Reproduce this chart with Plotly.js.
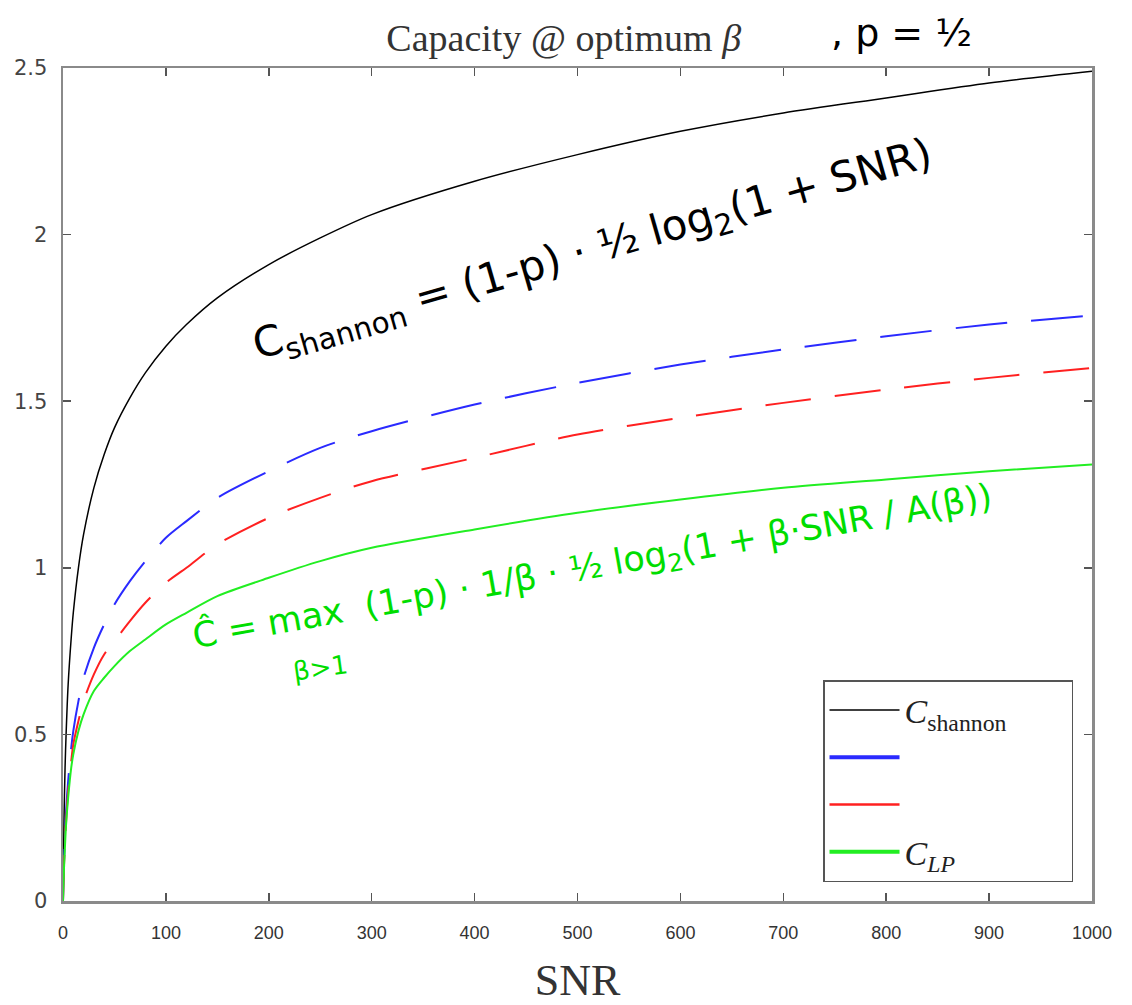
<!DOCTYPE html>
<html>
<head>
<meta charset="utf-8">
<script src="https://cdn.plot.ly/plotly-3.0.1.min.js"></script>
<style>html,body{margin:0;padding:0;background:#fff;}#chart{width:1132px;height:1005px;}</style>
</head>
<body>
<div id="chart"></div>
<script>
// SNR sample points
const snr = [0, 1, 2, 3, 5, 8, 10, 15, 20, 30, 40, 50, 65, 80, 100, 120, 150, 200, 250, 300, 400, 500, 600, 700, 800, 900, 1000];
// Black solid: C_shannon
const cShannon = [0, 0.25, 0.40, 0.50, 0.65, 0.79, 0.865, 1.00, 1.10, 1.24, 1.34, 1.42, 1.51, 1.585, 1.665, 1.73, 1.81, 1.91, 1.99, 2.06, 2.16, 2.24, 2.31, 2.365, 2.41, 2.455, 2.49];
// Blue dashed
const cBlue = [0, 0.12, 0.20, 0.27, 0.36, 0.46, 0.51, 0.60, 0.67, 0.76, 0.83, 0.89, 0.96, 1.02, 1.09, 1.14, 1.21, 1.29, 1.36, 1.41, 1.49, 1.555, 1.61, 1.655, 1.695, 1.73, 1.757];
// Red dashed
const cRed = [0, 0.11, 0.18, 0.24, 0.33, 0.42, 0.47, 0.54, 0.60, 0.68, 0.74, 0.78, 0.84, 0.895, 0.955, 1.00, 1.07, 1.15, 1.21, 1.26, 1.33, 1.40, 1.45, 1.495, 1.535, 1.57, 1.60];
// Green solid: C_LP
const cLP = [0, 0.10, 0.17, 0.23, 0.31, 0.40, 0.44, 0.51, 0.56, 0.63, 0.67, 0.705, 0.75, 0.785, 0.83, 0.865, 0.915, 0.97, 1.02, 1.06, 1.115, 1.165, 1.205, 1.24, 1.265, 1.29, 1.31];

const xTicks = [0, 100, 200, 300, 400, 500, 600, 700, 800, 900, 1000];
const yTicks = [0, 0.5, 1, 1.5, 2, 2.5];
const yTickText = ['0', '0.5', '1', '1.5', '2', '2.5'];

const NB = '\u00a0';
const names = {
  shannon: '<i>C</i><sub>shannon</sub>' + NB.repeat(7),
  blue: NB,
  red: NB,
  lp: '<i>C</i><sub><i>LP</i></sub>'
};

const colors = {black: '#000000', blue: '#2a2aff', red: '#ff2020', green: '#22ee22'};

const traces = [
  {x: snr, y: cShannon, mode: 'lines', line: {color: colors.black, width: 1.5, shape: 'spline', smoothing: 0.8}, name: names.shannon, showlegend: false},
  {x: snr, y: cBlue, mode: 'lines', line: {color: colors.blue, width: 2, dash: '52px,24px', shape: 'spline', smoothing: 0.8}, name: names.blue, showlegend: false},
  {x: snr, y: cRed, mode: 'lines', line: {color: colors.red, width: 2, dash: '46px,24px', shape: 'spline', smoothing: 0.8}, name: names.red, showlegend: false},
  {x: snr, y: cLP, mode: 'lines', line: {color: colors.green, width: 2, shape: 'spline', smoothing: 0.8}, name: names.lp, showlegend: false},
  // legend samples
  {x: [null], y: [null], mode: 'lines', line: {color: colors.black, width: 1.5}, name: names.shannon},
  {x: [null], y: [null], mode: 'lines', line: {color: colors.blue, width: 4}, name: names.blue},
  {x: [null], y: [null], mode: 'lines', line: {color: colors.red, width: 2.5}, name: names.red},
  {x: [null], y: [null], mode: 'lines', line: {color: colors.green, width: 4}, name: names.lp}
];

const axisCommon = {
  showgrid: false, zeroline: false, showline: true, mirror: 'ticks',
  linecolor: '#8a8a8a', linewidth: 2.5,
  ticks: 'inside', ticklen: 8, tickwidth: 1.5, tickcolor: '#555',
  tickfont: {family: 'Liberation Sans, Arial, sans-serif', size: 17, color: '#333'}
};

const layout = {
  width: 1132, height: 1005,
  paper_bgcolor: '#fff', plot_bgcolor: '#fff',
  margin: {l: 63, r: 40, t: 68, b: 104},
  title: {
    text: 'Capacity @ optimum <i>β</i>',
    font: {family: 'Liberation Serif, Times New Roman, serif', size: 38, color: '#333'},
    x: 0.498, xanchor: 'center', y: 0.962, yanchor: 'middle'
  },
  xaxis: Object.assign({}, axisCommon, {
    range: [0, 1000], tickvals: xTicks, ticktext: xTicks.map(String),
    ticklabelstandoff: 14,
    tickfont: {family: 'Liberation Sans, Arial, sans-serif', size: 18, color: '#333'},
    title: {text: 'SNR', font: {family: 'Liberation Serif, Times New Roman, serif', size: 44, color: '#333'}, standoff: 22}
  }),
  yaxis: Object.assign({}, axisCommon, {
    range: [0, 2.5], tickvals: yTicks, ticktext: yTickText,
    ticklabelstandoff: 9,
    tickfont: {family: 'DejaVu Sans, sans-serif', size: 21, color: '#444'}
  }),
  legend: {
    x: 0.7386, xanchor: 'left', y: 0.2653, yanchor: 'top',
    bgcolor: '#fff', bordercolor: '#555', borderwidth: 1.5,
    font: {family: 'Liberation Serif, Times New Roman, serif', size: 34, color: '#222'},
    itemwidth: 70, tracegroupgap: 0
  },
  annotations: [
    {text: ', p = ½', xref: 'paper', yref: 'paper', x: 0.815, y: 1.042, xanchor: 'center', yanchor: 'middle', showarrow: false,
     font: {family: 'DejaVu Sans, sans-serif', size: 38, color: '#000'}},
    {text: 'C<sub>shannon</sub> = (1-p) · ½ log<sub>2</sub>(1 + SNR)', x: 515, y: 1.95, xref: 'x', yref: 'y', showarrow: false, textangle: -16,
     font: {family: 'DejaVu Sans, sans-serif', size: 42, color: '#000'}},
    {text: 'Ĉ = max  (1-p) · 1/β · ½ log<sub>2</sub>(1 + β·SNR / A(β))', x: 515, y: 1.0, xref: 'x', yref: 'y', showarrow: false, textangle: -10,
     font: {family: 'DejaVu Sans, sans-serif', size: 35, color: '#00dd00'}},
    {text: 'β>1', x: 250, y: 0.70, xref: 'x', yref: 'y', showarrow: false, textangle: -8,
     font: {family: 'DejaVu Sans, sans-serif', size: 26, color: '#00dd00'}}
  ]
};

Plotly.newPlot('chart', traces, layout, {displayModeBar: false, staticPlot: true});
</script>
</body>
</html>
